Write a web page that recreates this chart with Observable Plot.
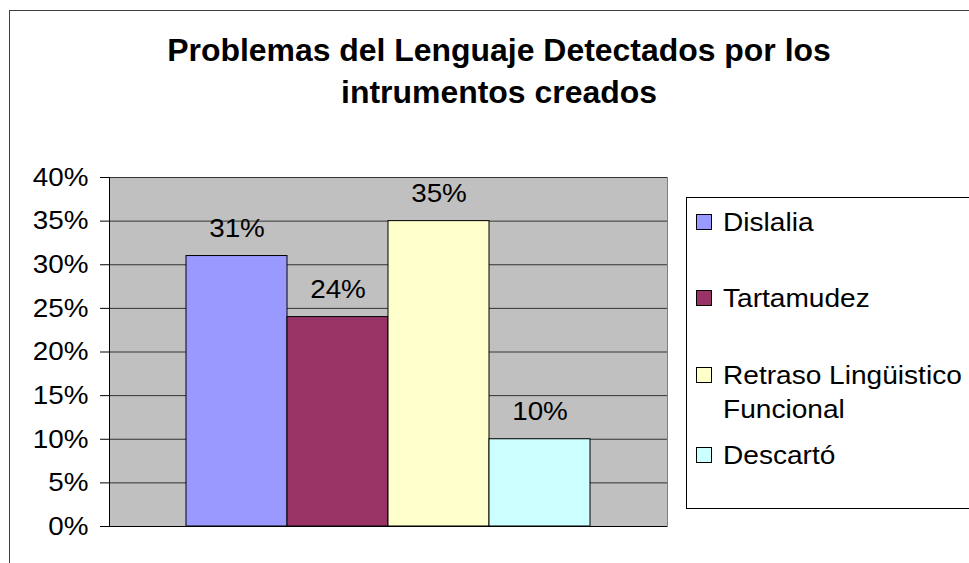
<!DOCTYPE html>
<html>
<head>
<meta charset="utf-8">
<script src="https://cdn.jsdelivr.net/npm/d3@7"></script>
<script src="https://cdn.jsdelivr.net/npm/@observablehq/plot@0.6"></script>
<style>
  html, body { margin: 0; padding: 0; background: #fff; }
  body { width: 969px; height: 563px; overflow: hidden; position: relative; font-family: "Liberation Sans", Arial, sans-serif; }
  #border { position: absolute; left: 9px; top: 10px; width: 1000px; height: 600px; border: 1px solid #404040; box-sizing: border-box; }
  #title { position: absolute; left: 0; top: 30px; width: 998px; text-align: center; font-weight: bold; font-size: 31px; line-height: 41.5px; color: #000; transform: scaleX(1.03); transform-origin: 499px 0; }
  #chart { position: absolute; left: 0; top: 0; }
  #legend { position: absolute; left: 686px; top: 197px; width: 320px; height: 312px; border: 1px solid #000; background: #fff; box-sizing: border-box; }
  .item { position: absolute; left: 0; font-size: 26px; line-height: 34px; color: #000; }
  .sw { position: absolute; left: 9px; width: 14px; height: 14px; border: 1px solid #000; box-sizing: content-box; }
  .lab { position: absolute; left: 36px; white-space: nowrap; transform: scaleX(1.08); transform-origin: 0 0; }
</style>
</head>
<body>
<div id="border"></div>
<div id="chart"></div>
<div id="title">Problemas del Lenguaje Detectados por los<br>intrumentos creados</div>
<div id="legend"></div>
<script>
const categories = ["Dislalia", "Tartamudez", "Retraso Lingüistico Funcional", "Descartó"];
const values = [0.31, 0.24, 0.35, 0.10];
const colors = ["#9999FF", "#993366", "#FFFFCC", "#CCFFFF"];
const yTicks = [0, 0.05, 0.10, 0.15, 0.20, 0.25, 0.30, 0.35, 0.40];
const legendLines = [["Dislalia"], ["Tartamudez"], ["Retraso Lingüistico", "Funcional"], ["Descartó"]];

const data = categories.map((c, i) => ({name: c, value: values[i]}));
const pct = d => Math.round(d * 100) + "%";

const plot = Plot.plot({
  width: 969,
  height: 563,
  marginLeft: 109,
  marginRight: 302,
  marginTop: 177,
  marginBottom: 37,
  style: {fontFamily: '"Liberation Sans", Arial, sans-serif', fontSize: "26px", background: "transparent", overflow: "visible"},
  x: {domain: categories, paddingInner: 0, paddingOuter: 0.756, axis: null},
  y: {domain: [0, 0.4]},
  color: {domain: categories, range: colors},
  marks: [
    Plot.frame({fill: "#C0C0C0", stroke: "#808080"}),
    Plot.gridY(yTicks, {stroke: "#333", strokeOpacity: 1}),
    Plot.barY(data, {x: "name", y: "value", fill: "name", stroke: "#000", strokeWidth: 1}),
    Plot.text(data, {x: "name", y: "value", text: d => pct(d.value), dy: -19, lineAnchor: "bottom", fontSize: 26, fill: "#000"}),
    Plot.ruleY([0], {stroke: "#000"}),
    Plot.frame({anchor: "left", stroke: "#000"}),
    Plot.axisY(yTicks, {tickFormat: pct, tickSize: 9, tickPadding: 12, fontSize: 26, label: null, stroke: "#000", fill: "#000"})
  ]
});
document.getElementById("chart").appendChild(plot);

// slight horizontal widening of text, as in the reference rendering
d3.select(plot).selectAll("text").each(function() {
  const w = this.getComputedTextLength();
  if (w > 0) {
    this.setAttribute("textLength", (w * 1.07).toFixed(2));
    this.setAttribute("lengthAdjust", "spacingAndGlyphs");
  }
});

// Legend
const legend = document.getElementById("legend");
const baselines = [230.7, 306.7, 384, 464]; // absolute baseline y of first line
legendLines.forEach((lines, i) => {
  const item = document.createElement("div");
  item.className = "item";
  const top = baselines[i] - 26 - 197 - 1;
  item.style.top = top + "px";
  const sw = document.createElement("div");
  sw.className = "sw";
  sw.style.top = "9px";
  sw.style.background = colors[i];
  item.appendChild(sw);
  const lab = document.createElement("div");
  lab.className = "lab";
  lab.innerHTML = lines.join("<br>");
  item.appendChild(lab);
  legend.appendChild(item);
});
</script>
</body>
</html>
